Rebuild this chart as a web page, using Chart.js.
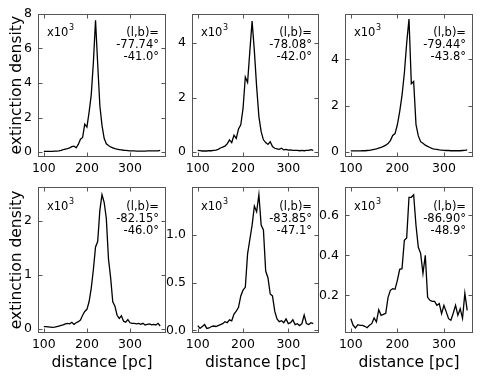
<!DOCTYPE html>
<html>
<head>
<meta charset="utf-8">
<script src="https://cdn.jsdelivr.net/npm/chart.js@4/dist/chart.umd.min.js"></script>
<style>
    html, body { margin: 0; padding: 0; background: #fff; }
    body { position: relative; width: 482px; height: 378px; overflow: hidden; }
    canvas { position: absolute; }
</style>
</head>
<body>
<script>
// distances [pc] for each column of panels
const distanceA = [100, 105, 110, 115, 120, 125, 130, 135, 140, 145, 150, 155, 160, 165, 170, 175, 180, 185, 190, 195,
    200, 205, 210, 215, 220, 225, 230, 235, 240, 245, 250, 255, 260, 265, 270, 275, 280, 285, 290, 295,
    300, 305, 310, 315, 320, 325, 330, 335, 340, 345, 350, 355, 360, 365, 370];
const distanceB = [100, 105, 110, 115, 120, 125, 130, 135, 140, 145, 150, 155, 160, 165, 170, 175, 180, 185, 190, 195,
    200, 205, 210, 215, 220, 225, 230, 235, 240, 245, 250, 255, 260, 265, 270, 275, 280, 285, 290, 295,
    300, 305, 310, 315, 320, 325, 330, 335, 340, 345, 350, 355];
const distanceC = [100, 105, 110, 115, 120, 125, 130, 135, 140, 145, 150, 155, 160, 165, 170, 175, 180, 185, 190, 195,
    200, 205, 210, 215, 220, 225, 230, 235, 240, 245, 250, 255, 260, 265, 270, 275, 280, 285, 290, 295,
    300, 305, 310, 315, 320, 325, 330, 335, 340, 345, 350];

// extinction density, x10^3
const density1 = [0.05, 0.05, 0.05, 0.05, 0.05, 0.06, 0.06, 0.07, 0.10, 0.14, 0.17, 0.20, 0.25, 0.32, 0.35, 0.25, 0.45, 0.75, 0.85, 1.62,
    1.45, 2.30, 3.30, 5.20, 7.63, 5.10, 2.70, 1.55, 0.80, 0.48, 0.38, 0.30, 0.25, 0.20, 0.17, 0.15, 0.13, 0.11, 0.10, 0.09,
    0.08, 0.07, 0.07, 0.06, 0.06, 0.06, 0.06, 0.06, 0.07, 0.07, 0.07, 0.08, 0.08, 0.08, 0.10];
const density2 = [0.06, 0.05, 0.04, 0.04, 0.04, 0.05, 0.05, 0.06, 0.07, 0.10, 0.15, 0.18, 0.22, 0.30, 0.45, 0.35, 0.62, 0.50, 0.85, 1.00,
    1.60, 2.75, 2.55, 3.70, 4.80, 3.70, 2.40, 1.30, 0.75, 0.45, 0.35, 0.28, 0.38, 0.20, 0.14, 0.12, 0.10, 0.14, 0.08, 0.10,
    0.07, 0.08, 0.06, 0.06, 0.06, 0.05, 0.06, 0.05, 0.06, 0.06, 0.09, 0.06];
const density3 = [0.05, 0.05, 0.05, 0.05, 0.05, 0.06, 0.06, 0.07, 0.08, 0.10, 0.12, 0.14, 0.17, 0.20, 0.25, 0.30, 0.37, 0.50, 0.72, 0.80,
    1.18, 1.75, 2.45, 3.40, 4.70, 5.74, 2.95, 3.05, 1.20, 0.70, 0.45, 0.38, 0.30, 0.25, 0.20, 0.15, 0.13, 0.12, 0.10, 0.09,
    0.08, 0.07, 0.07, 0.06, 0.06, 0.06, 0.06, 0.06, 0.07, 0.08, 0.10];
const density4 = [0.04, 0.04, 0.035, 0.03, 0.025, 0.03, 0.04, 0.05, 0.06, 0.07, 0.09, 0.10, 0.09, 0.12, 0.08, 0.11, 0.13, 0.16, 0.25, 0.32,
    0.36, 0.50, 0.75, 1.10, 1.52, 1.62, 2.20, 2.49, 2.35, 2.05, 1.30, 0.95, 0.50, 0.42, 0.25, 0.19, 0.24, 0.14, 0.12, 0.17,
    0.11, 0.10, 0.10, 0.09, 0.10, 0.08, 0.10, 0.07, 0.08, 0.09, 0.07, 0.08, 0.07, 0.10, 0.05];
const density5 = [0.05, 0.02, 0.04, 0.06, 0.02, 0.025, 0.04, 0.045, 0.04, 0.05, 0.06, 0.07, 0.09, 0.08, 0.11, 0.10, 0.17, 0.20, 0.24, 0.36,
    0.42, 0.45, 0.80, 0.95, 1.10, 1.30, 1.24, 1.42, 1.10, 1.05, 0.62, 0.55, 0.38, 0.36, 0.20, 0.12, 0.09, 0.10, 0.08, 0.12,
    0.07, 0.08, 0.11, 0.06, 0.07, 0.05, 0.07, 0.16, 0.07, 0.06, 0.08, 0.07];
const density6 = [0.083, 0.05, 0.037, 0.053, 0.05, 0.05, 0.045, 0.038, 0.05, 0.058, 0.087, 0.067, 0.128, 0.10, 0.105, 0.11, 0.19, 0.225, 0.233, 0.23,
    0.275, 0.33, 0.333, 0.475, 0.487, 0.69, 0.69, 0.703, 0.55, 0.44, 0.41, 0.31, 0.40, 0.19, 0.175, 0.17, 0.17, 0.15, 0.158, 0.108,
    0.15, 0.117, 0.083, 0.075, 0.11, 0.15, 0.10, 0.133, 0.085, 0.21, 0.125];

// ticks
const xTickValues = [100, 200, 300];
const xTickLabels = ['100', '200', '300'];
const yTicks1 = [0, 2, 4, 6, 8];
const yTicks2 = [0, 2, 4];
const yTicks3 = [0, 2, 4];
const yTicks4 = [0, 1, 2];
const yTicks5 = [0, 0.5, 1.0];
const yTicks6 = [0.2, 0.4, 0.6];
const yTickLabels1 = ['0', '2', '4', '6', '8'];
const yTickLabels2 = ['0', '2', '4'];
const yTickLabels3 = ['0', '2', '4'];
const yTickLabels4 = ['0', '1', '2'];
const yTickLabels5 = ['0.0', '0.5', '1.0'];
const yTickLabels6 = ['0.2', '0.4', '0.6'];

// panel annotations
const lonLabels = ['-77.74°', '-78.08°', '-79.44°', '-82.15°', '-83.85°', '-86.90°'];
const latLabels = ['-41.0°', '-42.0°', '-43.8°', '-46.0°', '-47.1°', '-48.9°'];

const FONT = "'DejaVu Sans', 'Liberation Sans', sans-serif";

// frame + inward ticks on all four sides + text in the corners
const panelFrame = {
    id: 'panelFrame',
    afterDatasetsDraw(chart, args, opts) {
        const { ctx, chartArea: a, scales: { x, y } } = chart;
        const L = Math.round(a.left) + 0.5, R = Math.round(a.right) - 0.5;
        const T = Math.round(a.top) + 0.5, B = Math.round(a.bottom) - 0.5;
        ctx.save();
        ctx.strokeStyle = '#555';
        ctx.lineWidth = 1;
        ctx.strokeRect(L, T, R - L, B - T);
        ctx.beginPath();
        x.ticks.forEach(t => {
            const px = Math.round(x.getPixelForValue(t.value)) + 0.5;
            ctx.moveTo(px, B); ctx.lineTo(px, B - 4);
            ctx.moveTo(px, T); ctx.lineTo(px, T + 4);
        });
        y.ticks.forEach(t => {
            const py = Math.round(y.getPixelForValue(t.value)) + 0.5;
            ctx.moveTo(L, py); ctx.lineTo(L + 4, py);
            ctx.moveTo(R, py); ctx.lineTo(R - 4, py);
        });
        ctx.stroke();

        ctx.fillStyle = '#000';
        ctx.textBaseline = 'alphabetic';
        ctx.textAlign = 'left';
        ctx.font = '11.5px ' + FONT;
        const sx = a.left + 9;
        ctx.fillText('x10', sx, a.top + 22.5);
        const w = ctx.measureText('x10').width;
        ctx.font = '8px ' + FONT;
        ctx.fillText('3', sx + w + 0.5, a.top + 16.5);

        ctx.font = '11.5px ' + FONT;
        ctx.textAlign = 'right';
        ctx.fillText('(l,b)=', a.right - 7, a.top + 22.5);
        ctx.fillText(opts.lon, a.right - 7, a.top + 34.5);
        ctx.fillText(opts.lat, a.right - 7, a.top + 46.5);
        ctx.restore();
    }
};

function makePanel(p) {
    const canvas = document.createElement('canvas');
    canvas.width = p.cw;
    canvas.height = p.ch;
    canvas.style.left = p.cl + 'px';
    canvas.style.top = p.ct + 'px';
    canvas.style.width = p.cw + 'px';
    canvas.style.height = p.ch + 'px';
    document.body.appendChild(canvas);

    new Chart(canvas, {
        type: 'line',
        data: {
            datasets: [{
                data: p.dist.map((d, i) => ({ x: d, y: p.dens[i] })),
                borderColor: '#000',
                borderWidth: 1.3,
                pointRadius: 0,
                tension: 0,
                fill: false
            }]
        },
        options: {
            responsive: false,
            devicePixelRatio: 1,
            animation: false,
            layout: { padding: { top: p.padTop, right: p.padRight, left: 0, bottom: 0 } },
            plugins: {
                legend: { display: false },
                tooltip: { enabled: false },
                panelFrame: { lon: p.lon, lat: p.lat }
            },
            scales: {
                x: {
                    type: 'linear',
                    min: p.xMin,
                    max: p.xMax,
                    grid: { display: false, drawTicks: false },
                    border: { display: false },
                    afterBuildTicks: s => { s.ticks = xTickValues.map(v => ({ value: v })); },
                    afterFit: s => { s.height = p.xH; },
                    ticks: {
                        autoSkip: false,
                        maxRotation: 0,
                        padding: 4,
                        color: '#000',
                        font: { family: FONT, size: 12.5 },
                        callback: (v, i) => xTickLabels[i]
                    },
                    title: {
                        display: p.xTitle,
                        text: 'distance [pc]',
                        color: '#000',
                        font: { family: FONT, size: 15.5 },
                        padding: { top: 0, bottom: 6 }
                    }
                },
                y: {
                    type: 'linear',
                    min: p.yMin,
                    max: p.yMax,
                    grid: { display: false, drawTicks: false },
                    border: { display: false },
                    afterBuildTicks: s => { s.ticks = p.yTicks.map(v => ({ value: v })); },
                    afterFit: s => { s.width = p.yW; },
                    ticks: {
                        autoSkip: false,
                        padding: 6,
                        color: '#000',
                        font: { family: FONT, size: 12.5 },
                        callback: (v, i) => p.yLabels[i]
                    },
                    title: {
                        display: p.yTitle,
                        text: 'extinction density',
                        color: '#000',
                        font: { family: FONT, size: 15.5 },
                        padding: { top: 8, bottom: 0 }
                    }
                }
            }
        },
        plugins: [panelFrame]
    });
}

// column / row placement of the six panels
const cols = [
    { cl: 0, cw: 172, yW: 38, padRight: 6, xMin: 86.5, xMax: 383.5, yTitle: true },
    { cl: 160, cw: 165, yW: 32, padRight: 6, xMin: 87.25, xMax: 367.75, yTitle: false },
    { cl: 312, cw: 170, yW: 33, padRight: 9, xMin: 87.5, xMax: 362.5, yTitle: false }
];
const rows = [
    { ct: 0, ch: 180, padTop: 11, xH: 23, xTitle: false },
    { ct: 172, ch: 206, padTop: 15, xH: 45, xTitle: true }
];

const panels = [
    { dist: distanceA, dens: density1, yTicks: yTicks1, yLabels: yTickLabels1, yMin: -0.28, yMax: 8.02 },
    { dist: distanceB, dens: density2, yTicks: yTicks2, yLabels: yTickLabels2, yMin: -0.18, yMax: 5.08 },
    { dist: distanceC, dens: density3, yTicks: yTicks3, yLabels: yTickLabels3, yMin: -0.21, yMax: 5.98 },
    { dist: distanceA, dens: density4, yTicks: yTicks4, yLabels: yTickLabels4, yMin: -0.08, yMax: 2.634 },
    { dist: distanceB, dens: density5, yTicks: yTicks5, yLabels: yTickLabels5, yMin: -0.028, yMax: 1.499 },
    { dist: distanceC, dens: density6, yTicks: yTicks6, yLabels: yTickLabels6, yMin: 0.0115, yMax: 0.7415 }
];

panels.forEach((pan, i) => {
    const c = cols[i % 3];
    const r = rows[Math.floor(i / 3)];
    makePanel(Object.assign({}, c, r, pan, { lon: lonLabels[i], lat: latLabels[i] }));
});
</script>
</body>
</html>
